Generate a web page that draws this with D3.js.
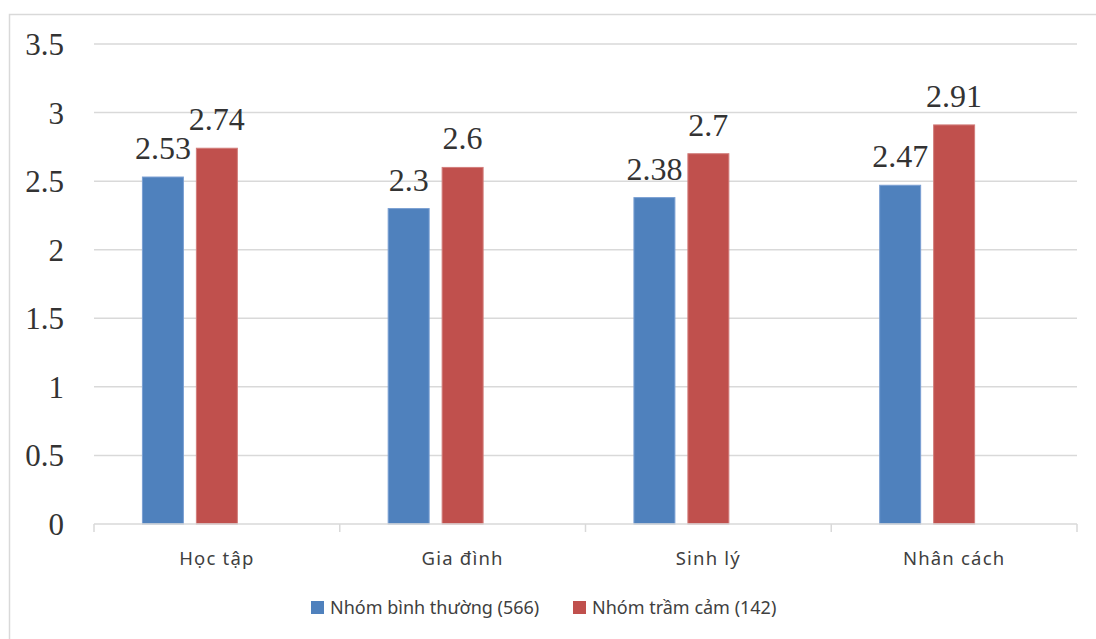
<!DOCTYPE html>
<html>
<head>
<meta charset="utf-8">
<script src="https://cdn.jsdelivr.net/npm/d3@7"></script>
<style>
  html, body { margin: 0; padding: 0; background: #fff; }
  svg { display: block; }
</style>
</head>
<body>
<svg id="chart" width="1096" height="639"></svg>
<script>
// Chart data
const categories = ["Học tập", "Gia đình", "Sinh lý", "Nhân cách"];
const seriesNames = ["Nhóm bình thường (566)", "Nhóm trầm cảm (142)"];
const normalValues = [2.53, 2.3, 2.38, 2.47];
const depressedValues = [2.74, 2.6, 2.7, 2.91];
const yTicks = [0, 0.5, 1, 1.5, 2, 2.5, 3, 3.5];
const seriesColors = ["#4f81bd", "#c0504d"];
const seriesEdges = ["#7a9fd2", "#d27d7b"];

const seriesValues = [normalValues, depressedValues];

const svg = d3.select("#chart");

// Outer chart frame
svg.append("rect")
  .attr("x", 9.5).attr("y", 14.5)
  .attr("width", 1120).attr("height", 660)
  .attr("fill", "none").attr("stroke", "#d9d9d9").attr("stroke-width", 1.5);

const plot = { left: 94, right: 1077, top: 44, bottom: 524 };

const y = d3.scaleLinear().domain([0, 3.5]).range([plot.bottom, plot.top]);

const x0 = d3.scaleBand()
  .domain(categories)
  .range([plot.left, plot.right])
  .paddingInner(0.39)
  .paddingOuter(0.195);

// three slots per group; the last slot is left empty
const slots = [0, 1, 2];
const x1 = d3.scaleBand()
  .domain(slots)
  .range([0, x0.bandwidth()])
  .paddingInner(0.222)
  .paddingOuter(0);

// Horizontal gridlines
svg.append("g")
  .selectAll("line")
  .data(yTicks.filter(t => t > 0))
  .join("line")
  .attr("x1", plot.left).attr("x2", plot.right)
  .attr("y1", d => y(d)).attr("y2", d => y(d))
  .attr("stroke", "#d9d9d9").attr("stroke-width", 1.5);

// Y axis labels
const yAxis = d3.axisLeft(y).tickValues(yTicks).tickSize(0).tickPadding(0)
  .tickFormat(d => String(d));
const yg = svg.append("g").attr("transform", `translate(64,0)`).call(yAxis);
yg.select(".domain").remove();
yg.selectAll("text")
  .attr("font-family", "'Liberation Serif', 'Times New Roman', serif")
  .attr("font-size", 31)
  .attr("fill", "#333")
  .attr("dy", "0.34em");

// Bars
const groups = svg.append("g")
  .selectAll("g")
  .data(categories)
  .join("g")
  .attr("transform", d => `translate(${x0(d)},0)`);

groups.each(function(cat, ci) {
  const g = d3.select(this);
  seriesValues.forEach((vals, si) => {
    const v = vals[ci];
    g.append("rect")
      .attr("x", x1(slots[si]) + 0.5)
      .attr("y", y(v))
      .attr("width", x1.bandwidth() - 1)
      .attr("height", y(0) - y(v))
      .attr("fill", seriesColors[si])
      .attr("stroke", seriesEdges[si])
      .attr("stroke-width", 1);
    g.append("text")
      .attr("x", x1(slots[si]) + x1.bandwidth() / 2)
      .attr("y", y(v) - 18)
      .attr("text-anchor", "middle")
      .attr("font-family", "'Liberation Serif', 'Times New Roman', serif")
      .attr("font-size", 32)
      .attr("fill", "#333")
      .text(String(v));
  });
});

// X axis line and category ticks
const xAxisG = svg.append("g");
xAxisG.append("line")
  .attr("x1", plot.left).attr("x2", plot.right)
  .attr("y1", plot.bottom).attr("y2", plot.bottom)
  .attr("stroke", "#d9d9d9").attr("stroke-width", 1.5);
const step = x0.step();
const boundaries = d3.range(categories.length + 1).map(i => plot.left + i * step);
xAxisG.selectAll("line.tick")
  .data(boundaries)
  .join("line")
  .attr("class", "tick")
  .attr("x1", d => d).attr("x2", d => d)
  .attr("y1", plot.bottom).attr("y2", plot.bottom + 8)
  .attr("stroke", "#d9d9d9").attr("stroke-width", 1.5);
xAxisG.selectAll("text")
  .data(categories)
  .join("text")
  .attr("x", d => x0(d) + x0.bandwidth() / 2)
  .attr("y", 565)
  .attr("text-anchor", "middle")
  .attr("font-family", "'Noto Sans', 'Open Sans', sans-serif")
  .attr("font-size", 18.5)
  .attr("letter-spacing", 1.2)
  .attr("fill", "#404040")
  .text(d => d);

// Legend
const legendItems = [
  { name: seriesNames[0], color: seriesColors[0], x: 311 },
  { name: seriesNames[1], color: seriesColors[1], x: 573 }
];
const legend = svg.append("g");
legendItems.forEach(item => {
  legend.append("rect")
    .attr("x", item.x).attr("y", 601)
    .attr("width", 13).attr("height", 13)
    .attr("fill", item.color);
  legend.append("text")
    .attr("x", item.x + 19).attr("y", 614)
    .attr("font-family", "'Noto Sans', 'Open Sans', sans-serif")
    .attr("font-size", 18)
    .attr("fill", "#404040")
    .text(item.name);
});
</script>
</body>
</html>
